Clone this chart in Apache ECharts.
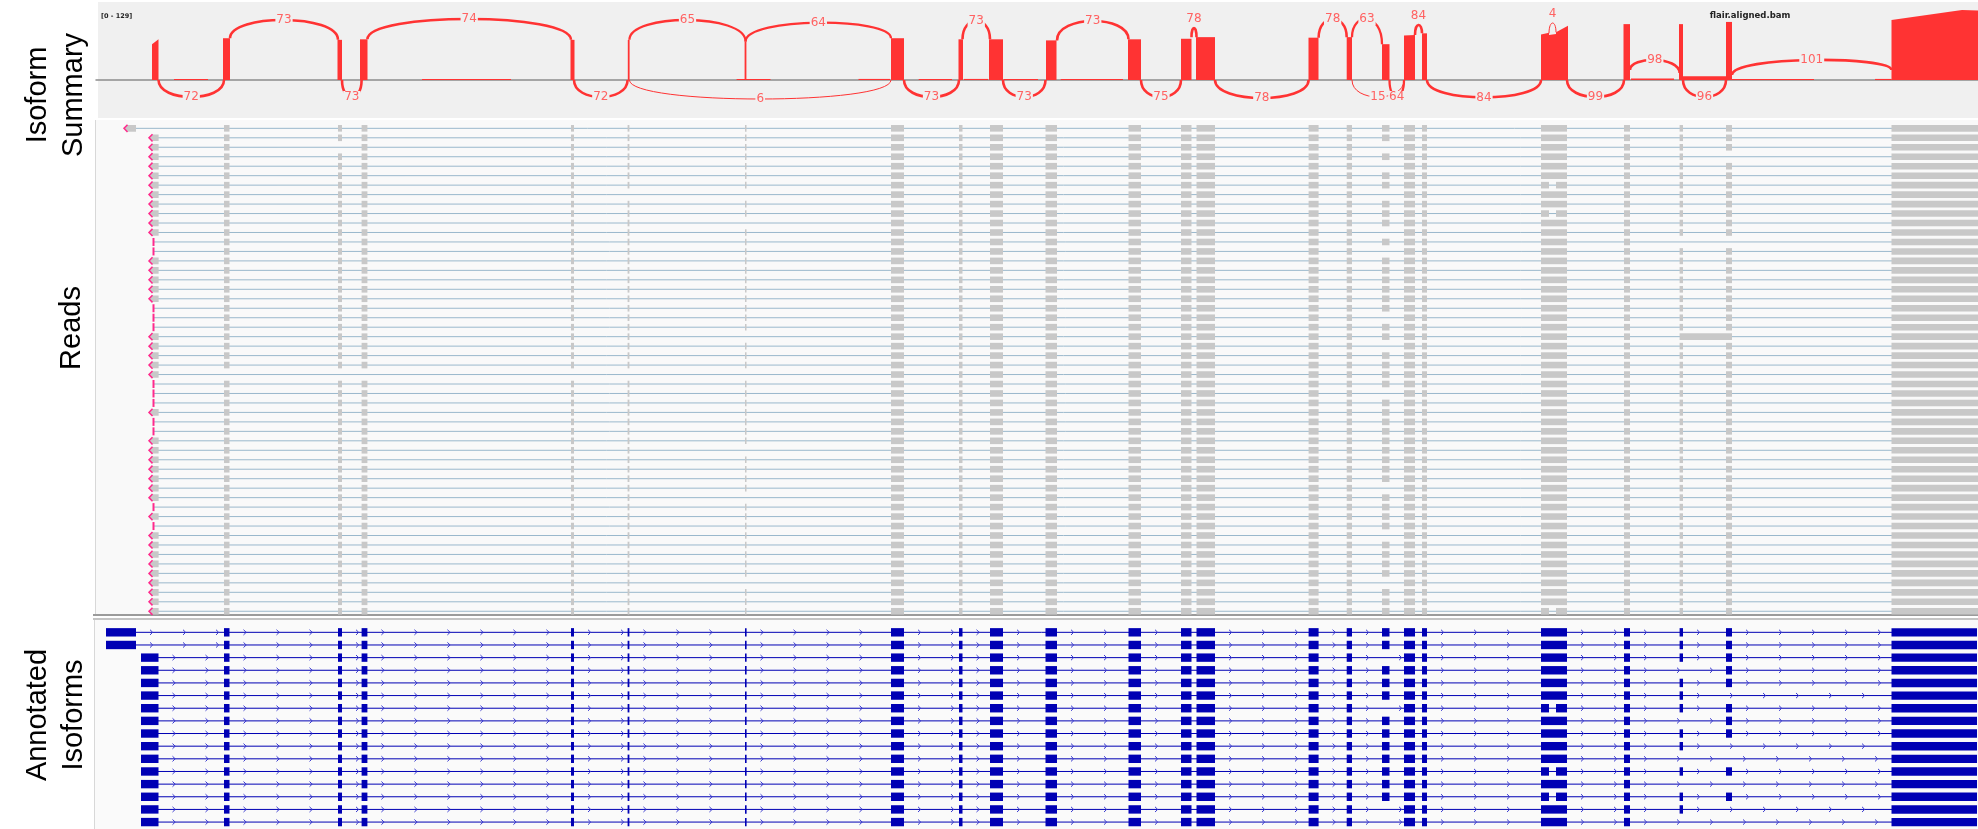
<!DOCTYPE html>
<html>
<head>
<meta charset="utf-8">
<title>flair.aligned.bam</title>
<script src="https://cdn.jsdelivr.net/npm/echarts@6/dist/echarts.min.js"></script>
<style>
    html, body { margin: 0; padding: 0; background: #fff; }
    #chart { width: 1978px; height: 829px; }
</style>
</head>
<body>
<div id="chart"></div>
<script>
    // exon columns e1..e24, in track position units
    const exonStart = [141, 224, 338, 361.6, 571, 627.6, 745, 891, 959, 990, 1045.5, 1128.5, 1181, 1196.5, 1308.6, 1346.7, 1382, 1404, 1422, 1541, 1624, 1679.6, 1726, 1891.5]
    const exonEnd = [158.5, 229.5, 342, 367.4, 574, 629.4, 746.5, 904, 962.5, 1003, 1057, 1141, 1191.5, 1215, 1318.6, 1352, 1389.5, 1415, 1427, 1567, 1630, 1683, 1732, 1977]
    const longFirstExon = [106, 136]
    const splitE20 = [[1541, 1549], [1556, 1567]]

    // sashimi coverage: [start, end, depth at start, depth at end]
    const coverage = [
        [152, 158.5, 66, 75], [174, 208, 2, 2], [223, 230, 77, 77], [337.5, 342, 74, 74],
        [360, 367.5, 75, 75], [422, 511, 2, 2], [570.5, 574.5, 74, 74], [627.8, 629.6, 74, 74],
        [736.6, 770.5, 2, 2], [744.6, 746.4, 71, 71], [858.5, 890, 2, 2], [891, 904, 77, 77],
        [918.7, 952, 2, 2], [958.5, 963, 75, 75], [964, 988, 2, 2], [989, 1003, 75, 75],
        [1003.5, 1038, 2, 2], [1046, 1056.5, 73, 73], [1060.7, 1123, 2, 2], [1128, 1141, 75, 75],
        [1181, 1191.5, 76, 76], [1196, 1215, 79, 79], [1308.5, 1318.5, 78, 78], [1346.7, 1352, 79, 79],
        [1382, 1389.5, 66, 66], [1404, 1415, 82, 83], [1422, 1427, 86, 86], [1541, 1549, 84, 87],
        [1549, 1556, 83, 85], [1556, 1568, 88, 100], [1623.5, 1630, 103, 103], [1631, 1674, 3, 3],
        [1679, 1683, 103, 103], [1683, 1726, 7, 7], [1726, 1732, 107, 107], [1732, 1814, 2, 2],
        [1875, 1891.5, 2, 2], [1891.5, 1962, 110.6, 129], [1962, 1978, 129, 128]
    ]

    // junctions: [donor, acceptor, reads, depth at donor, depth at acceptor, apex depth]
    const junctions = [
        [230, 338, 73, 77, 74, 110.6],
        [367.4, 571, 74, 75, 74, 112.4],
        [629.4, 745.6, 65, 74, 71, 110.6],
        [745.6, 891, 64, 71, 77, 105.6],
        [962.5, 990, 73, 75, 75, 109],
        [1057, 1128.5, 73, 73, 75, 108.7],
        [1191.5, 1196.5, 78, 79, 79, 95.8],
        [1318.6, 1346.7, 78, 78, 79, 112.4],
        [1352, 1382, 63, 79, 66, 112.4],
        [1415, 1422, 84, 83, 86, 101.4],
        [1549, 1556, 4, 86, 88, 105],
        [1630, 1679.6, 98, 18.4, 12.9, 36.9],
        [1732, 1891.5, 101, 9.2, 18.4, 36.9],
        [158.5, 224, 72, 0, 0, -31.3],
        [342, 361.6, 73, 0, 0, -31.3],
        [574, 627.6, 72, 0, 0, -31.3],
        [629.4, 891, 6, 0, 0, -35],
        [904, 959, 73, 0, 0, -31.3],
        [1003, 1045.5, 73, 0, 0, -31.3],
        [1141, 1181, 75, 0, 0, -31.3],
        [1215, 1308.6, 78, 0, 0, -33],
        [1352, 1404, 15, 0, 0, -31.3],
        [1389.5, 1404, 64, 0, 0, -31.3],
        [1427, 1541, 84, 0, 0, -32],
        [1567, 1624, 99, 0, 0, -31.3],
        [1683, 1726, 96, 0, 0, -31.3]
    ]

    // reads: C = early start, c = normal start, b = clipped start
    const readStartKind = 'C' + 'ccccccccccc' + 'bb' + 'ccccc' + 'bbb' + 'ccccc' + 'bbb' + 'c' + 'bb' + 'ccccccc' + 'b' + 'c' + 'b' + 'ccccccccc'
    const readEarlyFirstExon = [124, 136]
    const readFirstExon = [149, 158.6]
    const readBarStart = 153.5
    const readEnd = 1978
    const readSkipE3 = [3]
    const readSkipE6 = [8]
    const readSkipE7 = [8, 11, 23, 35, 40, 49]
    const readSkipE17 = [3, 5, 8, 12, 14, 21, 24, 29, 39, 44, 49]
    const readSkipE22 = [13]
    const readSkipE23 = [4, 13]
    const readNoEarlyExons = [27]
    const readSplitE20 = [7, 10, 52]
    const readRetainedE22E23 = [23]

    // annotated isoforms (16 rows)
    const isoCount = 16
    const isoLongFirst = [1, 2]
    const isoSkipE17 = [3, 7, 15, 16]
    const isoSkipE22 = [4, 8, 11, 13, 16]
    const isoSkipE23 = [6, 10, 11, 13, 15, 16]
    const isoSplitE20 = [7, 12, 14]

    const readSkips = { 3: readSkipE3, 6: readSkipE6, 7: readSkipE7, 17: readSkipE17, 22: readSkipE22, 23: readSkipE23 }
    const isoSkips = { 17: isoSkipE17, 22: isoSkipE22, 23: isoSkipE23 }

    const readRows = []
    for (let row = 1; row <= readStartKind.length; row++) {
        const kind = readStartKind[row - 1]
        const blocks = []
        if (kind === 'C') blocks.push(readEarlyFirstExon.slice())
        if (kind === 'c') blocks.push(readFirstExon.slice())
        for (let k = 2; k <= 24; k++) {
            if (k <= 7 && readNoEarlyExons.includes(row)) continue
            if (readSkips[k] && readSkips[k].includes(row)) continue
            if (k === 20 && readSplitE20.includes(row)) {
                splitE20.forEach(b => blocks.push(b.slice()))
                continue
            }
            if (k === 22 && readRetainedE22E23.includes(row)) {
                blocks.push([exonStart[21], exonEnd[22]])
                k = 23
                continue
            }
            blocks.push([exonStart[k - 1], k === 24 ? readEnd : exonEnd[k - 1]])
        }
        const start = kind === 'C' ? readEarlyFirstExon[0] : (kind === 'c' ? readFirstExon[0] : readBarStart)
        readRows.push({ row, kind, start, blocks })
    }

    const isoRows = []
    for (let row = 1; row <= isoCount; row++) {
        const blocks = [isoLongFirst.includes(row) ? longFirstExon.slice() : [exonStart[0], exonEnd[0]]]
        for (let k = 2; k <= 24; k++) {
            if (isoSkips[k] && isoSkips[k].includes(row)) continue
            if (k === 20 && isoSplitE20.includes(row)) {
                splitE20.forEach(b => blocks.push(b.slice()))
                continue
            }
            blocks.push([exonStart[k - 1], exonEnd[k - 1]])
        }
        isoRows.push({ row, blocks })
    }

    const chart = echarts.init(document.getElementById('chart'))
    const RED = '#ff3333'
    const BLUE = '#0000b4'

    const hidden = { show: false }
    const gridX = { left: 96, width: 1882 }

    chart.setOption({
        animation: false,
        grid: [
            Object.assign({ top: 2, height: 116 }, gridX),
            Object.assign({ top: 123.6, height: 492.4 }, gridX),
            Object.assign({ top: 626, height: 202.4 }, gridX)
        ],
        xAxis: [
            {
                gridIndex: 0, type: 'value', min: 96, max: 1978,
                axisLine: { show: true, onZero: true, lineStyle: { color: '#8c8c8c', width: 1.5 } },
                axisTick: hidden, axisLabel: hidden, splitLine: hidden
            },
            { gridIndex: 1, type: 'value', min: 96, max: 1978, show: false },
            { gridIndex: 2, type: 'value', min: 96, max: 1978, show: false }
        ],
        yAxis: [
            { gridIndex: 0, type: 'value', min: -70, max: 143.74, show: false, splitLine: hidden },
            { gridIndex: 1, type: 'value', min: 0.5, max: 52.5, inverse: true, show: false, splitLine: hidden },
            { gridIndex: 2, type: 'value', min: 0.5, max: 16.5, inverse: true, show: false, splitLine: hidden }
        ],
        graphic: [
            { type: 'rect', z: -10, shape: { x: 98, y: 2, width: 1880, height: 116 }, style: { fill: '#f0f0f0' } },
            { type: 'rect', z: -10, shape: { x: 96, y: 120, width: 1882, height: 494 }, style: { fill: '#f9f9f9' } },
            { type: 'line', z: -9, shape: { x1: 95.5, y1: 120, x2: 95.5, y2: 614 }, style: { stroke: '#d8d8d8', lineWidth: 1 } },
            { type: 'rect', z: -10, shape: { x: 95, y: 620, width: 1883, height: 209 }, style: { fill: '#fafafa' } },
            { type: 'line', z: -9, shape: { x1: 94.5, y1: 620, x2: 94.5, y2: 829 }, style: { stroke: '#d8d8d8', lineWidth: 1 } },
            { type: 'line', z: -9, shape: { x1: 93, y1: 615, x2: 1978, y2: 615 }, style: { stroke: '#7a7a7a', lineWidth: 1.5 } },
            { type: 'line', z: -9, shape: { x1: 93, y1: 619, x2: 1978, y2: 619 }, style: { stroke: '#c4c4c4', lineWidth: 2 } },
            {
                type: 'text', x: 101, y: 16,
                style: { text: '[0 - 129]', font: 'bold 6.5px "DejaVu Sans"', fill: '#222', align: 'left', verticalAlign: 'middle' }
            },
            {
                type: 'text', x: 1750, y: 16,
                style: { text: 'flair.aligned.bam', font: 'bold 8.5px "DejaVu Sans"', fill: '#222', align: 'center', verticalAlign: 'middle' }
            },
            {
                type: 'text', x: 56, y: 95, rotation: Math.PI / 2,
                style: { text: 'Isoform\nSummary', font: '29px "Liberation Sans"', lineHeight: 36, fill: '#000', align: 'center', verticalAlign: 'middle' }
            },
            {
                type: 'text', x: 72, y: 328, rotation: Math.PI / 2,
                style: { text: 'Reads', font: '29px "Liberation Sans"', lineHeight: 36, fill: '#000', align: 'center', verticalAlign: 'middle' }
            },
            {
                type: 'text', x: 56, y: 715, rotation: Math.PI / 2,
                style: { text: 'Annotated\nIsoforms', font: '29px "Liberation Sans"', lineHeight: 36, fill: '#000', align: 'center', verticalAlign: 'middle' }
            }
        ],
        series: [
            {
                name: 'coverage',
                type: 'custom',
                xAxisIndex: 0,
                yAxisIndex: 0,
                silent: true,
                encode: { x: [0, 1], y: [2, 3] },
                data: coverage,
                renderItem (params, api) {
                    const s = api.value(0), e = api.value(1)
                    const p0 = api.coord([s, 0]), p1 = api.coord([s, api.value(2)])
                    const p2 = api.coord([e, api.value(3)]), p3 = api.coord([e, 0])
                    if (p3[0] - p0[0] < 1.5) {
                        p2[0] = p0[0] + 1.5
                        p3[0] = p0[0] + 1.5
                    }
                    return {
                        type: 'polygon',
                        shape: { points: [p0, p1, p2, p3] },
                        style: { fill: RED }
                    }
                }
            },
            {
                name: 'junctions',
                type: 'custom',
                xAxisIndex: 0,
                yAxisIndex: 0,
                silent: true,
                z: 3,
                encode: { x: [0, 1], y: [3, 4, 5] },
                data: junctions,
                renderItem (params, api) {
                    const s = api.value(0), e = api.value(1), n = api.value(2)
                    const a = api.coord([s, api.value(3)])
                    const b = api.coord([e, api.value(4)])
                    const apex = api.coord([(s + e) / 2, api.value(5)])
                    const cpy = (apex[1] - 0.125 * (a[1] + b[1])) / 0.75
                    const lw = Math.max(1, Math.min(2.6, n / 28))
                    // short arcs above the baseline carry their count over the top
                    const narrow = api.value(5) > 0 && b[0] - a[0] < 16
                    return {
                        type: 'group',
                        children: [
                            {
                                type: 'bezierCurve',
                                shape: { x1: a[0], y1: a[1], x2: b[0], y2: b[1], cpx1: a[0], cpy1: cpy, cpx2: b[0], cpy2: cpy },
                                style: { stroke: RED, lineWidth: lw, fill: null }
                            },
                            {
                                type: 'text',
                                z2: 10,
                                style: {
                                    text: String(n),
                                    x: apex[0],
                                    y: narrow ? apex[1] - 9 : apex[1],
                                    font: '12px "DejaVu Sans"',
                                    fill: '#ff6262',
                                    align: 'center',
                                    verticalAlign: 'middle',
                                    backgroundColor: narrow ? null : '#f0f0f0',
                                    padding: [0, 1]
                                }
                            }
                        ]
                    }
                }
            },
            {
                name: 'reads',
                type: 'custom',
                xAxisIndex: 1,
                yAxisIndex: 1,
                silent: true,
                data: readRows.map(r => [r.start, r.row]),
                renderItem (params, api) {
                    const r = readRows[params.dataIndex]
                    const y = api.coord([r.start, r.row])[1]
                    const px = v => api.coord([v, r.row])[0]
                    const h = 3.3
                    const children = [{
                        type: 'line',
                        shape: { x1: px(r.start), y1: y, x2: px(readEnd), y2: y },
                        style: { stroke: '#9ab8cc', lineWidth: 1 }
                    }]
                    r.blocks.forEach((blk, i) => {
                        const x1 = px(blk[0])
                        const x2 = Math.max(px(blk[1]), x1 + 1.5)
                        if (i === 0 && r.kind !== 'b') {
                            children.push({
                                type: 'polygon',
                                shape: { points: [[x1, y], [x1 + 3, y - h], [x2, y - h], [x2, y + h], [x1 + 3, y + h]] },
                                style: { fill: '#c8c8c8' }
                            })
                            children.push({
                                type: 'polyline',
                                shape: { points: [[x1 + 3.5, y - 3.6], [x1, y], [x1 + 3.5, y + 3.6]] },
                                style: { stroke: '#ff2a8c', lineWidth: 1.5, fill: null }
                            })
                        } else {
                            children.push({
                                type: 'rect',
                                shape: { x: x1, y: y - h, width: x2 - x1, height: 2 * h },
                                style: { fill: '#c8c8c8' }
                            })
                        }
                    })
                    if (r.kind === 'b') {
                        const x0 = px(r.start)
                        children.push({
                            type: 'rect',
                            shape: { x: x0 - 1, y: y - 4, width: 2, height: 8 },
                            style: { fill: '#ff2a8c' }
                        })
                    }
                    return { type: 'group', children }
                }
            },
            {
                name: 'isoforms',
                type: 'custom',
                xAxisIndex: 2,
                yAxisIndex: 2,
                silent: true,
                data: isoRows.map(r => [r.blocks[0][0], r.row]),
                renderItem (params, api) {
                    const r = isoRows[params.dataIndex]
                    const y = api.coord([r.blocks[0][0], r.row])[1]
                    const px = v => api.coord([v, r.row])[0]
                    const h = 4.2
                    const first = r.blocks[0]
                    const last = r.blocks[r.blocks.length - 1]
                    const children = [{
                        type: 'line',
                        shape: { x1: px(first[0]), y1: y, x2: px(last[1]), y2: y },
                        style: { stroke: BLUE, lineWidth: 1 }
                    }]
                    for (let i = 0; i < r.blocks.length - 1; i++) {
                        const gapStart = px(r.blocks[i][1])
                        const gapEnd = px(r.blocks[i + 1][0])
                        for (let ax = gapStart + 15.5; ax < gapEnd - 3; ax += 33) {
                            children.push({
                                type: 'polyline',
                                shape: { points: [[ax - 1.5, y - 2.6], [ax + 1.2, y], [ax - 1.5, y + 2.6]] },
                                style: { stroke: '#3a3ad0', lineWidth: 1, fill: null }
                            })
                        }
                    }
                    r.blocks.forEach(blk => {
                        const x1 = px(blk[0])
                        const x2 = Math.max(px(blk[1]), x1 + 1.6)
                        children.push({
                            type: 'rect',
                            shape: { x: x1, y: y - h, width: x2 - x1, height: 2 * h },
                            style: { fill: BLUE }
                        })
                    })
                    return { type: 'group', children }
                }
            }
        ]
    })
</script>
</body>
</html>
